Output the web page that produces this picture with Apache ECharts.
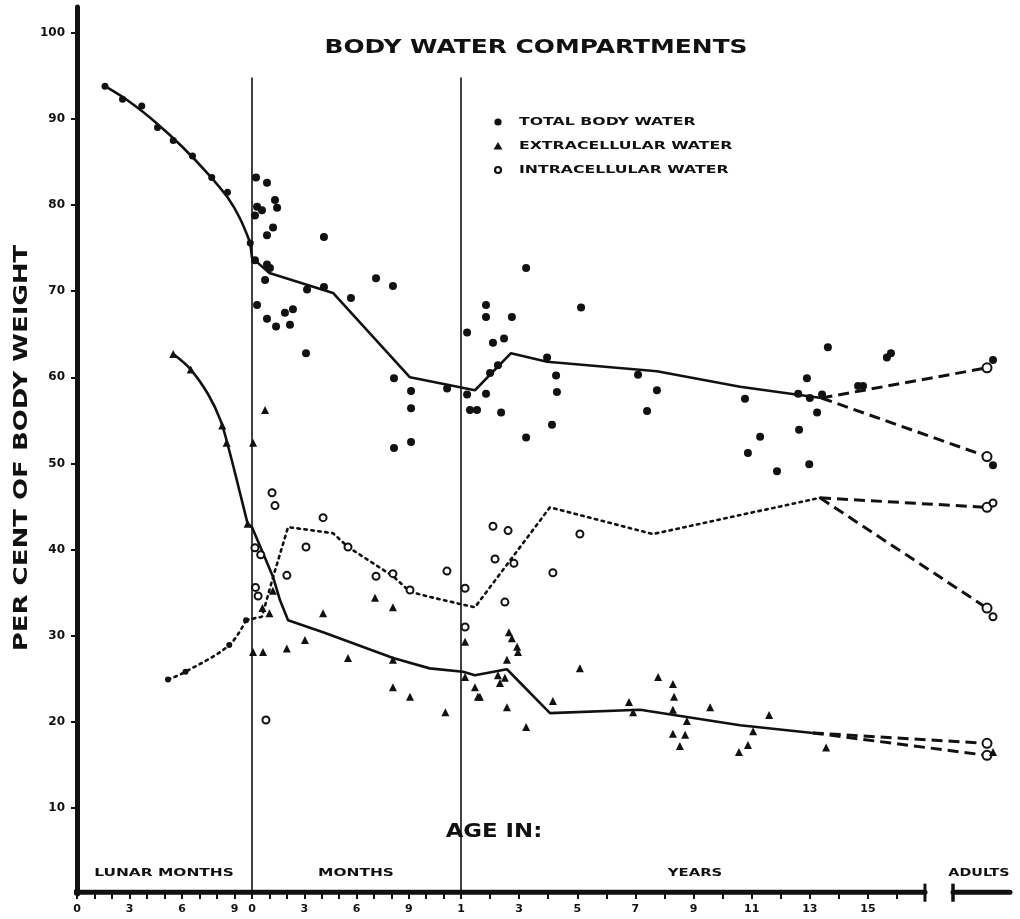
<!DOCTYPE html>
<html>
<head>
<meta charset="utf-8">
<script src="https://cdn.jsdelivr.net/npm/echarts@6/dist/echarts.min.js"></script>
<style>
  html, body { margin: 0; padding: 0; background: #fff; }
  #chart { width: 1020px; height: 919px; }
</style>
</head>
<body>
<div id="chart"></div>
<script>
// ---- tick labels on the broken age axis ----
const lunarTickLabels = [0, 3, 6, 9];
const monthTickLabels = [0, 3, 6, 9];
const yearTickLabels = [1, 3, 5, 7, 9, 11, 13, 15];
const percentTicks = [10, 20, 30, 40, 50, 60, 70, 80, 90, 100];

// ---- mean curves: [age, per cent of body weight] ----
// fetal parts in lunar months, infant parts in months, childhood parts in years
const tbwFetal = [[1.6, 93.8], [3.0, 92.0], [4.5, 89.6], [6.0, 86.8], [7.5, 83.6], [8.6, 80.9], [9.3, 78.5], [9.9, 75.6]];
const tbwInfant = [[0, 73.9], [1.0, 72.1], [4.65, 69.8], [9.07, 60.0]];
const tbwChild = [[1.48, 58.5], [2.72, 62.8], [3.96, 61.8], [7.74, 60.7], [10.6, 58.9], [13.4, 57.6]];
const tbwAdultMeans = [61.1, 50.8];

const ecwFetal = [[5.5, 62.7], [6.5, 60.9], [7.5, 58.0], [8.2, 55.0], [8.7, 51.5], [9.2, 47.5], [9.75, 43.0]];
const ecwInfant = [[0, 42.6], [0.63, 39.6], [1.21, 36.8], [1.61, 34.1], [2.07, 31.8], [4.08, 30.4], [8.1, 27.4], [10.2, 26.2]];
const ecwChild = [[1.07, 25.8], [1.48, 25.4], [2.58, 26.1], [4.06, 21.0], [7.16, 21.4], [10.6, 19.6], [13.1, 18.7]];
const ecwAdultMeans = [17.5, 16.1];

const icwFetal = [[5.2, 24.9], [6.2, 25.8], [8.7, 28.9], [9.66, 31.8]];
const icwInfant = [[0.57, 32.2], [1.21, 36.8], [2.07, 42.6], [4.65, 41.9], [5.51, 40.3], [8.1, 36.9], [9.07, 35.1], [10.2, 34.5]];
const icwChild = [[1.07, 33.6], [1.48, 33.3], [4.06, 44.9], [7.6, 41.8], [10.6, 44.0], [13.35, 46.0]];
const icwAdultMeans = [44.9, 33.2];

// fetal determinations marked along the curves
const tbwFetalMarks = [[1.6, 93.8], [2.6, 92.3], [3.7, 91.5], [4.6, 89.0], [5.5, 87.5], [6.6, 85.7], [7.7, 83.2], [8.6, 81.5], [9.9, 75.6]];
const ecwFetalMarks = [[5.5, 62.7], [6.5, 60.9], [8.3, 54.4], [8.55, 52.4], [9.75, 43.0]];
const icwFetalMarks = [[5.2, 24.9], [6.2, 25.8], [8.7, 28.9], [9.66, 31.8]];

// ---- individual determinations ----
const tbwMonthPts = [[0.23, 83.2], [0.86, 82.6], [1.32, 80.6], [1.44, 79.7], [0.29, 79.8], [0.57, 79.4], [0.17, 78.8], [1.21, 77.4], [0.86, 76.5], [4.13, 76.3], [0.17, 73.6], [0.86, 73.1], [1.03, 72.7], [0.75, 71.3], [3.16, 70.2], [4.13, 70.5], [7.12, 71.5], [8.09, 70.6], [5.68, 69.2], [0.29, 68.4], [0.86, 66.8], [1.89, 67.5], [2.35, 67.9], [1.38, 65.9], [2.18, 66.1], [3.1, 62.8], [8.15, 59.9], [9.13, 58.4], [9.13, 56.4], [8.15, 51.8], [9.13, 52.5], [11.2, 58.7]];
const tbwYearPts = [[1.21, 65.2], [1.21, 58.0], [1.31, 56.2], [1.55, 56.2], [1.86, 68.4], [1.86, 67.0], [1.86, 58.1], [3.24, 72.7], [2.75, 67.0], [2.1, 64.0], [2.48, 64.5], [5.13, 68.1], [2.27, 61.4], [2.0, 60.5], [3.96, 62.3], [4.27, 60.2], [4.3, 58.3], [2.38, 55.9], [4.13, 54.5], [3.24, 53.0], [7.09, 60.3], [7.74, 58.5], [7.4, 56.1], [10.77, 57.5], [11.29, 53.1], [10.87, 51.2], [11.87, 49.1], [12.63, 53.9], [12.98, 49.9], [12.9, 59.9], [13.62, 63.5], [12.6, 58.1], [13.0, 57.6], [13.42, 58.0], [13.25, 55.9], [14.66, 59.0], [14.83, 59.0], [15.65, 62.3], [15.79, 62.8]];
const tbwAdultPts = [62.0, 49.8];

const ecwMonthPts = [[0.06, 52.4], [0.75, 56.2], [7.06, 34.4], [8.09, 33.3], [4.08, 32.6], [3.04, 29.5], [2.0, 28.5], [5.51, 27.4], [8.09, 27.2], [8.09, 24.0], [9.07, 22.9], [11.1, 21.1], [0.63, 28.1], [0.06, 28.1], [0.6, 33.2], [1.0, 32.6], [1.2, 35.2]];
const ecwYearPts = [[1.14, 25.2], [1.48, 24.0], [1.58, 22.9], [1.14, 29.3], [2.65, 30.4], [2.75, 29.7], [2.93, 28.7], [2.96, 28.1], [2.58, 27.2], [2.27, 25.4], [2.51, 25.1], [2.34, 24.5], [1.65, 22.9], [2.58, 21.7], [3.24, 19.4], [5.09, 26.2], [4.16, 22.4], [6.78, 22.3], [6.92, 21.1], [7.78, 25.2], [8.29, 24.4], [8.33, 22.9], [8.29, 21.4], [8.77, 20.1], [8.29, 18.6], [8.71, 18.5], [8.53, 17.2], [9.57, 21.7], [10.56, 16.5], [11.6, 20.8], [11.05, 18.9], [10.87, 17.3], [13.56, 17.0]];
const ecwAdultPts = [16.5];

const icwMonthPts = [[1.15, 46.6], [1.32, 45.1], [4.08, 43.7], [3.1, 40.3], [2.0, 37.0], [5.51, 40.3], [7.12, 36.9], [8.09, 37.2], [9.07, 35.3], [11.19, 37.5], [0.8, 20.2], [0.17, 40.2], [0.5, 39.4], [0.2, 35.6], [0.35, 34.6]];
const icwYearPts = [[1.14, 35.5], [1.14, 31.0], [2.1, 42.7], [2.62, 42.2], [2.17, 38.9], [2.82, 38.4], [4.16, 37.3], [2.51, 33.9], [5.09, 41.8]];
const icwAdultPts = [45.4, 32.2];

// ---- piecewise age scale onto one continuous value axis ----
const pos = {
  lunar: m => 17.5 * m,                 // conception .. birth (10 lunar months)
  month: m => 175 + 17.42 * m,          // birth .. 1 year
  year: y => 384 + 29.07 * (y - 1),     // 1 .. 17 years
  adult: 910,
  adultDots: 916
};
const AXIS_END = pos.year(16.96);
const ADULT_BAR = [876, 933];

const ink = '#111';
const FONT = '"DejaVu Sans", "Liberation Sans", sans-serif';
const toXY = (arr, f) => arr.map(([a, v]) => [f(a), v]);

// tick and label positions along the age axis
const labelAt = new Map();
lunarTickLabels.forEach(m => labelAt.set(pos.lunar(m).toFixed(2), String(m)));
monthTickLabels.forEach(m => labelAt.set(pos.month(m).toFixed(2), String(m)));
yearTickLabels.forEach(y => labelAt.set(pos.year(y).toFixed(2), String(y)));
const tickAt = [];
for (let m = 0; m < 10; m++) tickAt.push(pos.lunar(m));
for (let m = 0; m < 12; m++) tickAt.push(pos.month(m));
for (let y = 1; y <= 16; y++) tickAt.push(pos.year(y));

const solid = { color: ink, width: 2.6 };
const dotted = { color: ink, width: 2.6, type: [2.5, 4.5], cap: 'round' };
const dashed = { color: ink, width: 3, type: [11, 6] };

function lineSeries(data, lineStyle, extra) {
  return Object.assign({
    type: 'line', data, symbol: 'none', clip: false, silent: true, animation: false,
    lineStyle, itemStyle: { color: ink, opacity: 1 }, z: 3
  }, extra || {});
}

function branches(fromPt, means) {
  return means.map(v => lineSeries([
    { value: fromPt, symbol: 'none' },
    { value: [pos.adult, v], symbol: 'emptyCircle', symbolSize: 9 }
  ], dashed, { showSymbol: true, showAllSymbol: true, itemStyle: { color: ink, borderWidth: 2.2, opacity: 1 } }));
}

function scatter(name, symbol, size, data, style) {
  return {
    type: 'scatter', name, symbol, symbolSize: size, silent: true, animation: false, clip: false, z: 4,
    itemStyle: Object.assign({ color: ink, opacity: 1 }, style || {}), data
  };
}

const tbwPost = [...toXY(tbwInfant, pos.month), ...toXY(tbwChild, pos.year)];
const ecwPost = [...toXY(ecwInfant, pos.month), ...toXY(ecwChild, pos.year)];
const icwPost = [...toXY(icwInfant, pos.month), ...toXY(icwChild, pos.year)];
const tbwFet = toXY(tbwFetal, pos.lunar);
const ecwFet = toXY(ecwFetal, pos.lunar);
const icwFet = toXY(icwFetal, pos.lunar);

const series = [
  // fetal curves and their marks
  lineSeries(tbwFet, solid, { smooth: 0.35 }),
  lineSeries(ecwFet, solid, { smooth: 0.35 }),
  lineSeries(icwFet, dotted, { smooth: 0.35 }),
  scatter('tbw fetal', 'circle', 7, toXY(tbwFetalMarks, pos.lunar)),
  scatter('ecw fetal', 'triangle', 8, toXY(ecwFetalMarks, pos.lunar)),
  scatter('icw fetal', 'circle', 6, toXY(icwFetalMarks, pos.lunar)),
  // postnatal curves
  lineSeries([tbwFet[tbwFet.length - 1], ...tbwPost], solid),
  lineSeries([ecwFet[ecwFet.length - 1], ...ecwPost], solid),
  lineSeries([icwFet[icwFet.length - 1], ...icwPost], dotted),
  // adult branches
  ...branches(tbwPost[tbwPost.length - 1], tbwAdultMeans),
  ...branches(ecwPost[ecwPost.length - 1], ecwAdultMeans),
  ...branches(icwPost[icwPost.length - 1], icwAdultMeans),
  // individual values
  scatter('TOTAL BODY WATER', 'circle', 8,
    [...toXY(tbwMonthPts, pos.month), ...toXY(tbwYearPts, pos.year), ...tbwAdultPts.map(v => [pos.adultDots, v])]),
  scatter('EXTRACELLULAR WATER', 'triangle', 8,
    [...toXY(ecwMonthPts, pos.month), ...toXY(ecwYearPts, pos.year), ...ecwAdultPts.map(v => [pos.adultDots, v])]),
  scatter('INTRACELLULAR WATER', 'emptyCircle', 7,
    [...toXY(icwMonthPts, pos.month), ...toXY(icwYearPts, pos.year), ...icwAdultPts.map(v => [pos.adultDots, v])],
    { borderWidth: 2 }),
  // birth and first-birthday dividers, age axis base line and end stops
  lineSeries([[pos.month(0), 0], [pos.month(0), 94.8]], { color: ink, width: 1.6 }, { z: 2 }),
  lineSeries([[pos.year(1), 0], [pos.year(1), 94.8]], { color: ink, width: 1.6 }, { z: 2 }),
  lineSeries([[-6, 0.2], [AXIS_END, 0.2]], { color: ink, width: 5, cap: 'round' }, { z: 5 }),
  lineSeries([[AXIS_END, 1.2], [AXIS_END, -0.9]], { color: ink, width: 3 }, { z: 5 }),
  lineSeries([[ADULT_BAR[0], 0.2], [ADULT_BAR[1], 0.2]], { color: ink, width: 5, cap: 'round' }, { z: 5 }),
  lineSeries([[ADULT_BAR[0], 1.2], [ADULT_BAR[0], -0.9]], { color: ink, width: 3.5 }, { z: 5 })
];

// stretched lettering
function word(text, x, y, size, sx, extra) {
  return Object.assign({
    type: 'text', x, y, scaleX: sx, silent: true,
    style: { text, fill: ink, font: `bold ${size}px ${FONT}`, textAlign: 'center', textVerticalAlign: 'middle' }
  }, extra || {});
}

const legendItems = [
  { label: 'TOTAL BODY WATER', shape: 'circle' },
  { label: 'EXTRACELLULAR WATER', shape: 'triangle' },
  { label: 'INTRACELLULAR WATER', shape: 'ring' }
];
const legendGraphics = [];
legendItems.forEach((it, i) => {
  const y = 122 + i * 24;
  if (it.shape === 'circle') legendGraphics.push({ type: 'circle', shape: { cx: 498, cy: y, r: 3.6 }, style: { fill: ink }, silent: true });
  if (it.shape === 'triangle') legendGraphics.push({ type: 'polygon', shape: { points: [[498, y - 4], [502.5, y + 3.5], [493.5, y + 3.5]] }, style: { fill: ink }, silent: true });
  if (it.shape === 'ring') legendGraphics.push({ type: 'circle', shape: { cx: 498, cy: y, r: 3 }, style: { fill: '#fff', stroke: ink, lineWidth: 2.2 }, silent: true });
  legendGraphics.push({
    type: 'text', x: 519, y, scaleX: 1.43, silent: true,
    style: { text: it.label, fill: ink, font: `bold 11px ${FONT}`, textAlign: 'left', textVerticalAlign: 'middle' }
  });
});

const chart = echarts.init(document.getElementById('chart'), null, { renderer: 'canvas' });
chart.setOption({
  backgroundColor: '#fff',
  animation: false,
  grid: { left: 77, right: 8, top: 7, bottom: 25, containLabel: false },
  xAxis: {
    type: 'value', min: 0, max: 935,
    axisLine: { show: false },
    splitLine: { show: false },
    axisTick: { show: true, customValues: tickAt, length: 5, lineStyle: { color: ink, width: 2 } },
    axisLabel: {
      show: true, customValues: [...labelAt.keys()].map(Number), margin: 10,
      formatter: v => labelAt.get(Number(v).toFixed(2)) || '',
      color: ink, fontFamily: FONT, fontWeight: 'bold', fontSize: 11
    }
  },
  yAxis: {
    type: 'value', min: 0, max: 103,
    axisLine: { show: true, onZero: false, lineStyle: { color: ink, width: 5 } },
    splitLine: { show: false },
    axisTick: { show: true, customValues: percentTicks, length: 6, lineStyle: { color: ink, width: 2 } },
    axisLabel: {
      show: true, customValues: percentTicks, margin: 12,
      color: ink, fontFamily: FONT, fontWeight: 'bold', fontSize: 12
    }
  },
  series,
  graphic: [
    word('BODY WATER COMPARTMENTS', 536, 48, 19, 1.31),
    word('AGE IN:', 494, 832, 19, 1.2),
    word('LUNAR MONTHS', 164, 873, 11, 1.4),
    word('MONTHS', 356, 873, 11, 1.4),
    word('YEARS', 695, 873, 11, 1.35),
    word('ADULTS', 979, 873, 11, 1.3),
    word('PER CENT OF BODY WEIGHT', 22, 448, 20, 1.3, { rotation: Math.PI / 2 }),
    ...legendGraphics
  ]
});
</script>
</body>
</html>
